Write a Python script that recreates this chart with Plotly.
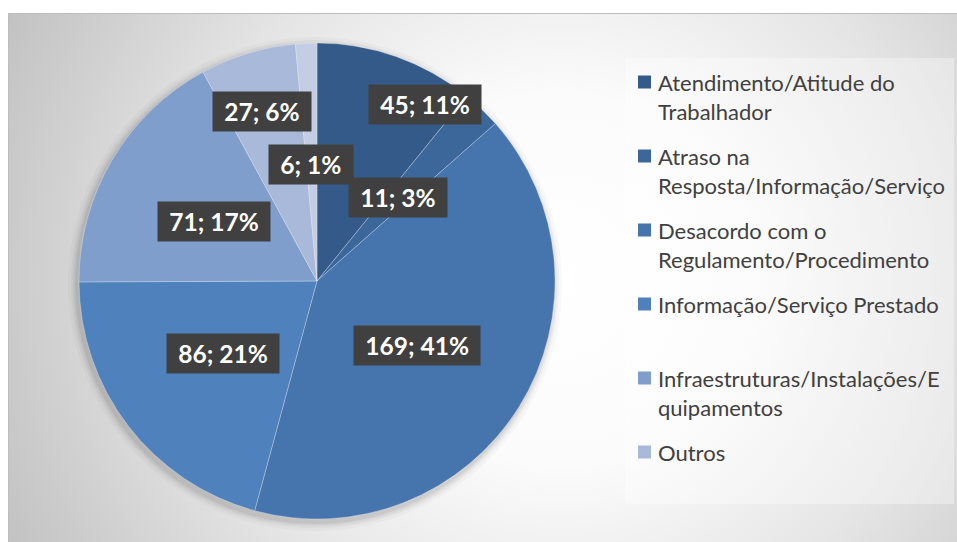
import base64
import math
import plotly.graph_objects as go

# ---------------- data ----------------
categories = [
    "Atendimento/Atitude do Trabalhador",
    "Atraso na Resposta/Informação/Serviço",
    "Desacordo com o Regulamento/Procedimento",
    "Informação/Serviço Prestado",
    "Infraestruturas/Instalações/Equipamentos",
    "Outros",
    "Outros (sem legenda)",
]
values = [45, 11, 169, 86, 71, 27, 6]
percent_labels = [11, 3, 41, 21, 17, 6, 1]

legend_text = [
    "Atendimento/Atitude do<br>Trabalhador",
    "Atraso na<br>Resposta/Informação/Serviço",
    "Desacordo com o<br>Regulamento/Procedimento",
    "Informação/Serviço Prestado",
    "Infraestruturas/Instalações/E<br>quipamentos",
    "Outros",
]

colors = ["#335A89", "#3C679B", "#4674AD", "#4F81BD", "#809ECC", "#A8B9D9", "#C3CEE4"]

# ---------------- layout constants ----------------
W, H = 957, 542
cx, cy, R = 317, 281, 238
label_frac = [0.87, 0.49, 0.50, 0.50, 0.50, 0.75, 0.49]
label_angle_offset = [12, 0.5, 1, 0, -0.6, -1, -0.4]

FONT = "Lato, Carlito, Calibri, 'Open Sans', sans-serif"


def px(x):
    return x / W


def py(y):
    return 1 - y / H


fig = go.Figure()

fig.add_trace(go.Pie(
    values=values,
    labels=categories,
    sort=False,
    direction="clockwise",
    rotation=0,
    textinfo="none",
    showlegend=False,
    marker=dict(colors=colors, line=dict(color="rgba(255,255,255,0.4)", width=0.7)),
    domain=dict(x=[px(cx - R), px(cx + R)], y=[py(cy + R), py(cy - R)]),
    hovertemplate="%{label}: %{value}<extra></extra>",
))

annotations = []
total = sum(values)
cum = 0
for i, v in enumerate(values):
    mid = (cum + v / 2) / total * 360 + label_angle_offset[i]
    cum += v
    r = R * label_frac[i]
    lx = cx + r * math.sin(math.radians(mid))
    ly = cy - r * math.cos(math.radians(mid))
    annotations.append(dict(
        x=px(lx), y=py(ly), xref="paper", yref="paper",
        text=f"\u00a0<b>{v}; {percent_labels[i]}%</b>\u00a0",
        showarrow=False, bgcolor="#404040", borderpad=5,
        font=dict(family=FONT, size=24.5, color="white"),
        xanchor="center", yanchor="middle",
    ))

shapes = []
# chart area border
shapes.append(dict(
    type="rect", xref="paper", yref="paper", layer="below",
    x0=px(8.5), x1=px(W + 5), y0=py(H + 5), y1=py(13.5),
    fillcolor="rgba(0,0,0,0)", line=dict(color="#bdbdbd", width=1),
))
# legend panel
shapes.append(dict(
    type="rect", xref="paper", yref="paper", layer="below",
    x0=px(625), x1=px(954), y0=py(504), y1=py(58),
    fillcolor="rgba(255,255,255,0.35)", line=dict(width=0),
))
# soft shadow around the pie
for k, a in [(9, 0.025), (6, 0.035), (4, 0.045), (2, 0.06)]:
    shapes.append(dict(
        type="circle", xref="paper", yref="paper", layer="below",
        x0=px(cx - 2 - R - k), x1=px(cx - 2 + R + k),
        y0=py(cy + 3 + R + k), y1=py(cy + 3 - R - k),
        fillcolor=f"rgba(0,0,0,{a})", line=dict(width=0),
    ))

# legend (drawn manually: only six entries are shown)
leg_y0, leg_step = 82, 74
for i, txt in enumerate(legend_text):
    yc = leg_y0 + i * leg_step
    shapes.append(dict(
        type="rect", xref="paper", yref="paper",
        x0=px(638), x1=px(651), y0=py(yc + 6.5), y1=py(yc - 6.5),
        fillcolor=colors[i], line=dict(width=0),
    ))
    annotations.append(dict(
        x=px(656), y=py(yc - 15.5), xref="paper", yref="paper",
        text=txt, showarrow=False, align="left",
        xanchor="left", yanchor="top",
        font=dict(family=FONT, size=22, color="#404040"),
    ))

# radial gradient background of chart area
gw, gh = W - 8, H - 13
svg = (
    f'<svg xmlns="http://www.w3.org/2000/svg" width="{gw}" height="{gh}" viewBox="0 0 {gw} {gh}">'
    f'<defs><radialGradient id="g" gradientUnits="userSpaceOnUse" cx="552" cy="267" r="613">'
    '<stop offset="0" stop-color="#ffffff"/>'
    '<stop offset="0.3" stop-color="#fbfbfb"/>'
    '<stop offset="0.6" stop-color="#e6e6e6"/>'
    '<stop offset="1" stop-color="#c2c2c2"/>'
    '</radialGradient></defs>'
    f'<rect width="{gw}" height="{gh}" fill="url(#g)"/></svg>'
)
src = "data:image/svg+xml;base64," + base64.b64encode(svg.encode()).decode()

fig.update_layout(
    width=W, height=H,
    margin=dict(l=0, r=0, t=0, b=0),
    paper_bgcolor="white",
    plot_bgcolor="white",
    showlegend=False,
    annotations=annotations,
    shapes=shapes,
    images=[dict(
        source=src, xref="paper", yref="paper",
        x=px(8), y=py(13), sizex=gw / W, sizey=gh / H,
        xanchor="left", yanchor="top", sizing="stretch", layer="below",
    )],
)

fig.write_html(
    "out.html",
    config={"displayModeBar": False},
    post_script="document.body.style.margin='0';document.body.style.overflow='hidden';",
)
